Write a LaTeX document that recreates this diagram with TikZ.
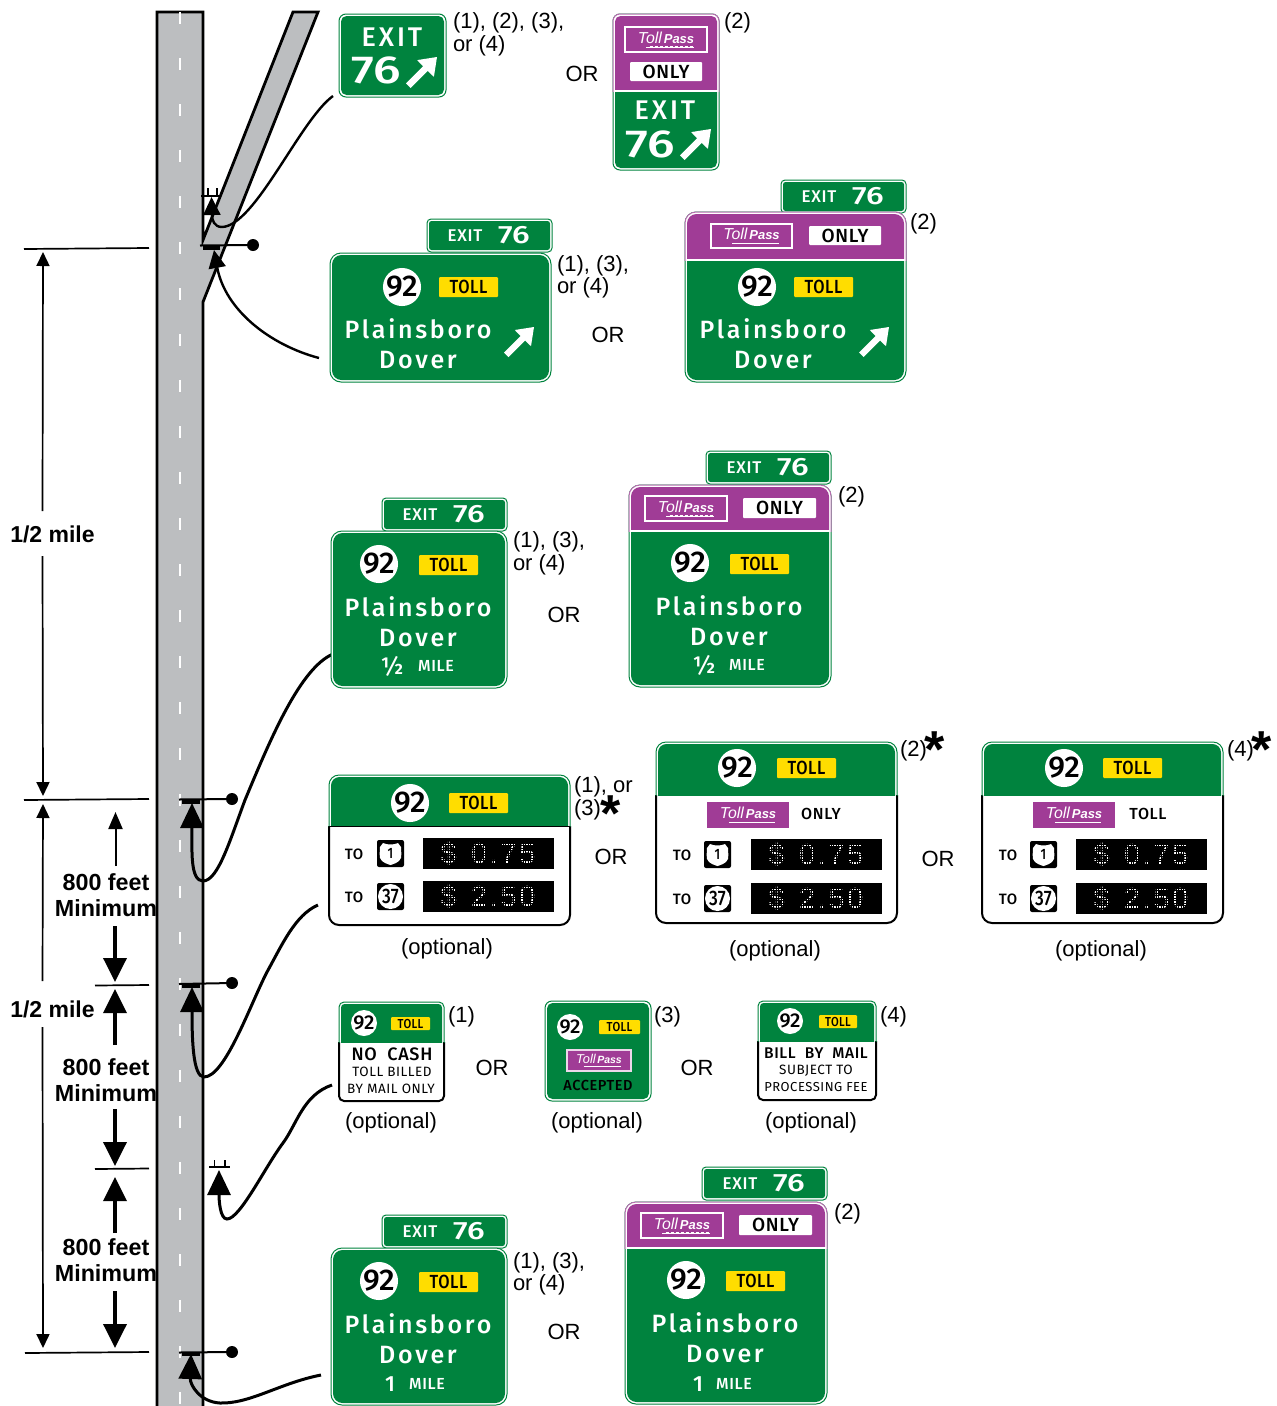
\documentclass[tikz,border=0pt]{standalone}
\usepackage{fontspec}
\usetikzlibrary{arrows.meta,fit}
\setmainfont{Liberation Sans}
\newfontfamily\sgA[LetterSpace=11]{Fira Sans Medium}
\newfontfamily\sgB[LetterSpace=4]{Fira Sans Medium}
\newfontfamily\sgE[LetterSpace=11]{Fira Sans Medium}
\newfontfamily\sgW[FakeStretch=1.28]{Fira Sans Medium}
\newfontfamily\sgT[FakeStretch=1.02]{Fira Sans Medium}
\newfontfamily\sgN[FakeStretch=.86,LetterSpace=3]{Fira Sans Medium}
\newfontfamily\sgS[FakeStretch=.82]{Fira Sans Medium}
\newfontfamily\sgR[LetterSpace=4]{Fira Sans}
\newfontfamily\sgD[LetterSpace=9]{Liberation Sans}
\definecolor{signgreen}{HTML}{00833E}
\definecolor{tollpurple}{HTML}{A03C96}
\definecolor{tollyellow}{HTML}{FFDD00}
\definecolor{roadgray}{HTML}{BCBEC0}
\newcommand\fz[1]{\fontsize{#1}{#1}\selectfont}
\newcounter{nn}
\tikzset{
 x=1pt,y=-1pt,
 lbl/.style={inner sep=0,outer sep=0},
 face/.style={fit={#1},inner sep=0,outer sep=0},
 dimline/.style={line width=1.7},
 headsmall/.style={line width=2,-{Triangle[length=17,width=14]}},
 headbig/.style={line width=3.6,-{Triangle[length=24,width=23]}},
 leadthin/.style={line width=2.4,-{Triangle[length=18,width=17]}},
 leadthick/.style={line width=3,-{Triangle[length=25,width=23]}},
 postline/.style={line width=2},
 postbar/.style={line width=3.4},
 postcap/.style={circle,fill=black,minimum size=12,inner sep=0},
}
\newcommand\tx[4][]{\stepcounter{nn}\node[lbl,#1] (t\arabic{nn}) at ({#2},{#3}) {#4};}
\newcommand\lab[3]{\tx[anchor=west,font=\fz{22}]{#1}{#2+2}{#3}}
\newcommand\orl[2]{\tx[font=\fz{22}]{#1}{#2+.5}{OR}}
\newcommand\opt[2]{\tx[font=\fz{22}]{#1}{#2+2}{(optional)}}
\newcommand\astr[2]{\tx[anchor=base,font=\bfseries\fz{52}]{#1}{#2+25}{*}}
\newcommand\stx[5][white]{\tx[text=#1,font=#2]{#3}{#4}{#5}}
\newcommand\gsign[6]{%
 \node[face={(#2,#3)(#4,#5)},draw=signgreen,line width=1,fill=white,rounded corners=#6] (#1) {};
 \fill[signgreen,rounded corners=#6-1.5] ({#2+2},{#3+2}) rectangle ({#4-2},{#5-2});
}
\newcommand\psign[7]{%
 \gsign{#1}{#2}{#3}{#4}{#5}{#7}
 \begin{scope}
  \clip ({#2-2},{#3-2}) rectangle ({#4+2},#6);
  \draw[tollpurple!75,line width=1,fill=white,rounded corners=#7] (#2,#3) rectangle (#4,#5);
  \fill[tollpurple,rounded corners=#7-1.5] ({#2+2},{#3+2}) rectangle ({#4-2},{#5-2});
 \end{scope}
 \draw[white,line width=2] ({#2+1},#6) -- ({#4-1},#6);
}
\newcommand\wsign[7]{%
 \node[face={(#2,#3)(#4,#5)},draw=black,line width=2,fill=white,rounded corners=#7] (#1) {};
 \begin{scope}
  \clip ({#2-2},{#3-2}) rectangle ({#4+2},#6);
  \fill[white] ({#2-2},{#3-2}) rectangle ({#4+2},#6);
  \draw[signgreen,line width=1,rounded corners=#7] (#2,#3) rectangle (#4,{#5+20});
  \fill[signgreen,rounded corners=#7-1.5] ({#2+2},{#3+2}) rectangle ({#4-2},{#5+20});
 \end{scope}
}
\newcommand\nine[4]{\stepcounter{nn}\node[circle,fill=white,minimum size=#3*2,inner sep=0,outer sep=0,text=black,font=\sgT\fz{#4}] (t\arabic{nn}) at (#1,#2) {92};}
\newcommand\tollp[5]{\stepcounter{nn}\node[face={(#1,#2)(#3,#4)},fill=tollyellow,rounded corners=1] (t\arabic{nn}) {};
 \tx[text=black,font=\sgN\fz{#5}]{(#1+#3)/2}{(#2+#4)/2}{TOLL}}
\newcommand\wplate[5]{\stepcounter{nn}\node[face={(#1,#2)(#3,#4)},fill=white,rounded corners=1] (t\arabic{nn}) {};
 \tx[text=black,font=\sgB\fz{#5}]{(#1+#3)/2}{(#2+#4)/2}{ONLY}}
\newcommand\tpass[6]{\stepcounter{nn}%
 \pgfmathsetmacro\tsz{1.22*#5}%
 \node[face={(#1,#2)(#3,#4)},fill=tollpurple,draw=#6,line width=1.6] (t\arabic{nn}) {};
 \tx[text=white,font=\bfseries\itshape\fz{#5}]{(#1+#3)/2}{#2+(#4-#2)*.42}{{\mdseries\fz{\tsz}Toll}\hspace{.15em}Pass}
 \draw[white,line width=.7] ({#1+(#3-#1)*.26},{#2+(#4-#2)*.80}) -- ({#1+(#3-#1)*.84},{#2+(#4-#2)*.80});
 \draw[white,line width=1.3,dash pattern=on 3 off 2] ({#1+(#3-#1)*.30},{#2+(#4-#2)*.80}) -- ({#1+(#3-#1)*.84},{#2+(#4-#2)*.80});
}
\newcommand\uarr[3]{\fill[white,shift={(#1,#2)},scale=#3] (1,-1) -- (.36,-.9) -- (.55,-.70) -- (0,-.15) -- (.15,0) -- (.70,-.55) -- (.9,-.36) -- cycle;}
\newcommand\plq[3]{%
 \gsign{#1}{#2}{#3}{#2+125}{#3+33}{4}
 \stx{\sgB\fz{17}}{#2+38}{#3+17}{EXIT}
 \stx{\sgW\fz{25}}{#2+87}{#3+16}{76}
}
\newcommand\dest[3]{%
 \stx{\sgA\fz{25}}{#1}{#2}{Plainsboro}
 \stx{\sgA\fz{25}}{#1}{#3}{Dover}
}
\newcommand\ushield[2]{\stepcounter{nn}%
 \node[face={(#1,#2)(#1+27,#2+27)},fill=black,rounded corners=2] (t\arabic{nn}) {};
 \fill[white,shift={(#1,#2)}] (6,3) .. controls (10,5) and (17,5) .. (21,3) -- (24,7) .. controls (24,13) and (25,15) .. (24,18) .. controls (22,23) and (16,24) .. (13.5,25) .. controls (11,24) and (5,23) .. (3,18) .. controls (2,15) and (3,13) .. (3,7) -- cycle;
 \tx[text=black,font=\sgS\fz{15}]{#1+13.5}{#2+13.5}{1}
}
\newcommand\cshield[2]{\stepcounter{nn}%
 \node[face={(#1,#2)(#1+27,#2+27)},fill=black,rounded corners=2] (t\arabic{nn}) {};
 \stepcounter{nn}\node[circle,fill=white,minimum size=25,inner sep=0,text=black,font=\sgS\fz{21}] (t\arabic{nn}) at (#1+13.5,#2+13.5) {37};
}
\newcommand\dms[5]{\stepcounter{nn}%
 \node[face={(#1,#2)(#3,#4)},fill=black] (t\arabic{nn}) {};
 \tx[text=white,font=\sgD\fz{29}]{(#1+#3)/2}{(#2+#4)/2}{#5}
 \foreach \gi in {0,...,52} \draw[black,line width=.6] ({#1+2.5*\gi},#2) -- ({#1+2.5*\gi},#4);
 \foreach \gi in {0,...,12} \draw[black,line width=.6] (#1,{#2+2.5*\gi}) -- (#3,{#2+2.5*\gi});
}
\newcommand\tollrows[7]{%
 \stx[black]{\sgB\fz{15}}{#1}{#4+14}{TO}
 \ushield{#2}{#4}
 \dms{#3}{#5}{#3+130}{#5+31}{\$\hspace{.5em}0.75}
 \stx[black]{\sgB\fz{15}}{#1}{#6+14}{TO}
 \cshield{#2}{#6}
 \dms{#3}{#7}{#3+130}{#7+31}{\$\hspace{.5em}2.50}
}
\begin{document}
\begin{tikzpicture}
\useasboundingbox (0,0) rectangle (1277,1406);
\path[fill=white] (0,0) rectangle (1277,1406);
\begin{scope}
\clip (0,0) rectangle (1277,1406);
\draw[fill=roadgray,line width=2.8,line join=miter] (157,1420) -- (157,12) -- (203,12) -- (203,240) -- (293,12) -- (318,12) -- (203,302) -- (203,1420);
\foreach \dy in {0,...,30} \draw[white,line width=2.6] (180,{12+46*\dy}) -- (180,{24+46*\dy});
\end{scope}
\coordinate (d1) at (24,249); \coordinate (d1e) at (149,248);
\coordinate (d2) at (24,800); \coordinate (d2e) at (149,799);
\coordinate (d3) at (95,985.5); \coordinate (d3e) at (149,985);
\coordinate (d4) at (95,1169); \coordinate (d4e) at (149,1168.5);
\coordinate (d5) at (25,1353); \coordinate (d5e) at (149,1352);
\draw[dimline] (d1) -- (d1e); \draw[dimline] (d2) -- (d2e); \draw[dimline] (d3) -- (d3e);
\draw[dimline] (d4) -- (d4e); \draw[dimline] (d5) -- (d5e);
\tx[font=\bfseries\fz{23}]{52.5}{534}{1/2 mile}
\tx[font=\bfseries\fz{23}]{52.5}{1009}{1/2 mile}
\coordinate (a1) at (43,252); \coordinate (a2) at (43,796); \coordinate (a3) at (43,804); \coordinate (a4) at (43,1348);
\coordinate (a1g) at (42.5,511); \coordinate (a2g) at (42.5,556); \coordinate (a3g) at (42.5,981); \coordinate (a4g) at (42.5,1027);
\draw[line width=1.7,{Triangle[length=14,width=13]}-] (a1) -- (a1g);
\draw[line width=1.7,-{Triangle[length=14,width=13]}] (a2g) -- (a2);
\draw[line width=1.7,{Triangle[length=14,width=13]}-] (a3) -- (a3g);
\draw[line width=1.7,-{Triangle[length=14,width=13]}] (a4g) -- (a4);
\coordinate (b1) at (115.5,866); \coordinate (b1t) at (115.5,812);
\coordinate (b2) at (115,926); \coordinate (b2t) at (115,982);
\coordinate (b3) at (115,1045); \coordinate (b3t) at (115,989);
\coordinate (b4) at (115,1109); \coordinate (b4t) at (115,1166);
\coordinate (b5) at (115,1233); \coordinate (b5t) at (115,1177);
\coordinate (b6) at (115,1291); \coordinate (b6t) at (115,1348);
\draw[headsmall] (b1) -- (b1t);
\foreach \ba in {2,...,6} \draw[headbig] (b\ba) -- (b\ba t);
\foreach \ty in {0,185,365}{
 \tx[font=\bfseries\fz{23.3}]{106}{882+\ty}{800 feet}
 \tx[font=\bfseries\fz{23.3}]{106}{908+\ty}{Minimum}
}
\coordinate (p1a) at (201,195.5); \coordinate (p1b) at (220,195.5);
\draw[postline] (p1a) -- (p1b);
\coordinate (p1c) at (207.7,188); \coordinate (p1d) at (216.7,188);
\draw[line width=1.8] (p1c) -- (207.7,195); \draw[line width=1.8] (p1d) -- (216.7,195);
\node[postcap] (k2) at (253,245) {}; \coordinate (p2a) at (200,245.5);
\draw[postline] (p2a) -- (k2); \coordinate (p2b) at (203,248); \coordinate (p2c) at (220,248);
\draw[postbar] (p2b) -- (p2c);
\node[postcap] (k3) at (232,799) {}; \coordinate (p3a) at (179,799.5);
\draw[postline] (p3a) -- (k3); \coordinate (p3b) at (182,802); \coordinate (p3c) at (200,802);
\draw[postbar] (p3b) -- (p3c);
\node[postcap] (k4) at (232,983) {}; \coordinate (p4a) at (179,984);
\draw[postline] (p4a) -- (k4); \coordinate (p4b) at (182,986); \coordinate (p4c) at (200,986);
\draw[postbar] (p4b) -- (p4c);
\coordinate (p5a) at (209,1167); \coordinate (p5b) at (230,1167);
\draw[postline] (p5a) -- (p5b);
\coordinate (p5c) at (214.5,1160); \coordinate (p5d) at (225,1160);
\draw[line width=1.8] (p5c) -- (214.5,1167); \draw[line width=1.8] (p5d) -- (225,1167);
\node[postcap] (k6) at (232,1352) {}; \coordinate (p6a) at (179,1352.5);
\draw[postline] (p6a) -- (k6); \coordinate (p6b) at (182,1354.5); \coordinate (p6c) at (200,1354.5);
\draw[postbar] (p6b) -- (p6c);
\coordinate (l1) at (333,96); \coordinate (l1t) at (211.5,197);
\coordinate (l2) at (319,358); \coordinate (l2t) at (214,250);
\coordinate (l3) at (333,654); \coordinate (l3t) at (192,803);
\coordinate (l4) at (318,905); \coordinate (l4t) at (192,987);
\coordinate (l5) at (332,1085); \coordinate (l5t) at (219,1170);
\coordinate (l6) at (321,1375); \coordinate (l6t) at (191,1354);
\draw[leadthin] (l1) .. controls (300,120) and (255,226) .. (222,227) .. controls (214,227) and (212,220) .. (l1t);
\draw[leadthin] (l2) .. controls (270,345) and (225,310) .. (l2t);
\draw[leadthick] (l3) .. controls (300,668) and (270,740) .. (245,800) .. controls (230,840) and (218,881) .. (203,881) .. controls (190,881) and (192,850) .. (l3t);
\draw[leadthick] (l4) .. controls (295,915) and (282,945) .. (267,972) .. controls (250,1005) and (225,1077) .. (204,1077) .. controls (193,1077) and (192,1040) .. (l4t);
\draw[leadthick] (l5) .. controls (303,1095) and (297,1124) .. (283,1143) .. controls (265,1167) and (240,1219) .. (227,1219) .. controls (220,1219) and (219,1200) .. (l5t);
\draw[leadthick] (l6) .. controls (280,1383) and (250,1404) .. (220,1403) .. controls (200,1402) and (190,1385) .. (l6t);
\gsign{s1}{339}{14}{446}{97}{7}
\stx{\sgE\fz{27}}{392}{37}{EXIT}
\stx{\sgW\fz{39}}{376}{70}{76}
\uarr{406}{88}{31}
\lab{453}{21}{(1), (2), (3),}
\lab{453}{44}{or (4)}
\orl{582}{73}
\psign{s2}{613}{14}{719}{170}{91}{7}
\tpass{625}{27}{707}{52}{13}{white}
\wplate{630}{62}{702}{81}{19}
\stx{\sgE\fz{27}}{665}{110}{EXIT}
\stx{\sgW\fz{39}}{650}{144}{76}
\uarr{680}{160}{31}
\lab{724}{21}{(2)}
\plq{s3}{427}{219}
\gsign{s4}{330}{253}{551}{382}{11}
\nine{402}{287}{19}{30}
\tollp{439}{277}{498}{297}{19}
\dest{418}{329}{360}
\uarr{504}{357}{30}
\lab{557}{264}{(1), (3),}
\lab{557}{286}{or (4)}
\orl{608}{334}
\plq{s5}{781}{180}
\psign{s6}{685}{212}{906}{382}{260}{11}
\tpass{711}{224}{792}{248}{13}{white}
\wplate{809}{226}{881}{245}{19}
\nine{757}{287}{19}{30}
\tollp{794}{277}{853}{297}{19}
\dest{773}{329}{360}
\uarr{859}{357}{30}
\lab{910}{222}{(2)}
\plq{s7}{382}{498}
\gsign{s8}{331}{531}{507}{688}{11}
\nine{379}{564}{19}{30}
\tollp{419}{555}{478}{575}{19}
\dest{418}{607}{638}
\stx{\sgB\fz{24}}{392}{666}{½}
\stx{\sgB\fz{16}}{436}{666}{MILE}
\lab{513}{540}{(1), (3),}
\lab{513}{563}{or (4)}
\orl{564}{614}
\plq{s9}{706}{451}
\psign{s10}{629}{485}{831}{687}{531}{11}
\tpass{645}{496}{727}{521}{13}{white}
\wplate{743}{498}{816}{518}{19}
\nine{690}{563}{19}{30}
\tollp{730}{554}{789}{574}{19}
\dest{729}{606}{637}
\stx{\sgB\fz{24}}{704}{665}{½}
\stx{\sgB\fz{16}}{747}{665}{MILE}
\lab{838}{495}{(2)}
\wsign{s11}{329}{775}{570}{925}{826}{10}
\draw[black,line width=1.6] (329,826.5) -- (570,826.5);
\nine{410}{803}{19}{30}
\tollp{449}{793}{508}{813}{19}
\tollrows{354}{377}{423}{840}{838}{883}{881}
\lab{574}{785}{(1), or}
\lab{574}{808}{(3)}
\astr{611}{806}
\opt{447}{947}
\orl{611}{856}
\wsign{s12}{656}{742}{897}{923}{795}{10}
\nine{737}{768}{19}{30}
\tollp{777}{758}{836}{778}{19}
\tpass{708}{803}{788}{827}{13}{tollpurple}
\stx[black]{\sgB\fz{16}}{821}{814}{ONLY}
\tollrows{682}{704}{751}{841}{839}{885}{883}
\lab{900}{749}{(2)}
\astr{935}{742}
\opt{775}{949}
\orl{938}{858}
\wsign{s13}{982}{742}{1223}{923}{795}{10}
\nine{1064}{768}{19}{30}
\tollp{1103}{758}{1162}{778}{19}
\tpass{1034}{803}{1114}{827}{13}{tollpurple}
\stx[black]{\sgB\fz{16}}{1148}{814}{TOLL}
\tollrows{1008}{1030}{1076}{841}{839}{885}{883}
\lab{1227}{749}{(4)}
\astr{1262}{742}
\opt{1101}{949}
\wsign{s14}{339}{1002}{444}{1101}{1042}{5}
\nine{364}{1023}{13}{20}
\tollp{391}{1017}{430}{1030}{13}
\stx[black]{\sgB\fz{18}}{392}{1054}{NO~~CASH}
\stx[black]{\sgR\fz{13.5}}{392}{1072}{TOLL~BILLED}
\stx[black]{\sgR\fz{13.5}}{391}{1089}{BY~MAIL~ONLY}
\lab{448}{1015}{(1)}
\opt{391}{1121}
\orl{492}{1067}
\gsign{s15}{545}{1001}{651}{1101}{7}
\nine{570}{1027}{13}{20}
\tollp{599}{1020}{640}{1034}{13}
\tpass{567}{1050}{631}{1071}{10.5}{white!80!tollpurple}
\stx[black]{\sgB\fz{14.5}}{598}{1085}{ACCEPTED}
\lab{654}{1015}{(3)}
\opt{597}{1121}
\orl{697}{1067}
\wsign{s16}{758}{1001}{876}{1100}{1041}{5}
\nine{790}{1021}{13}{20}
\tollp{819}{1015}{857}{1028}{13}
\stx[black]{\sgB\fz{15.5}}{816}{1053}{BILL~~BY~~MAIL}
\stx[black]{\sgR\fz{13.5}}{816}{1071}{SUBJECT~TO}
\stx[black]{\sgR\fz{13}}{816}{1087}{PROCESSING~FEE}
\lab{880}{1015}{(4)}
\opt{811}{1121}
\plq{s17}{382}{1215}
\gsign{s18}{331}{1248}{507}{1405}{11}
\nine{379}{1281}{19}{30}
\tollp{419}{1272}{478}{1292}{19}
\dest{418}{1324}{1355}
\stx{\sgB\fz{22}}{390}{1384}{1}
\stx{\sgB\fz{16}}{427}{1384}{MILE}
\lab{513}{1261}{(1), (3),}
\lab{513}{1283}{or (4)}
\orl{564}{1331}
\plq{s19}{702}{1167}
\psign{s20}{625}{1202}{827}{1404}{1248}{11}
\tpass{641}{1213}{723}{1238}{13}{white}
\wplate{739}{1215}{812}{1235}{19}
\nine{686}{1280}{19}{30}
\tollp{726}{1271}{785}{1291}{19}
\dest{725}{1323}{1354}
\stx{\sgB\fz{22}}{698}{1384}{1}
\stx{\sgB\fz{16}}{734}{1384}{MILE}
\lab{834}{1212}{(2)}
\end{tikzpicture}
\end{document}
